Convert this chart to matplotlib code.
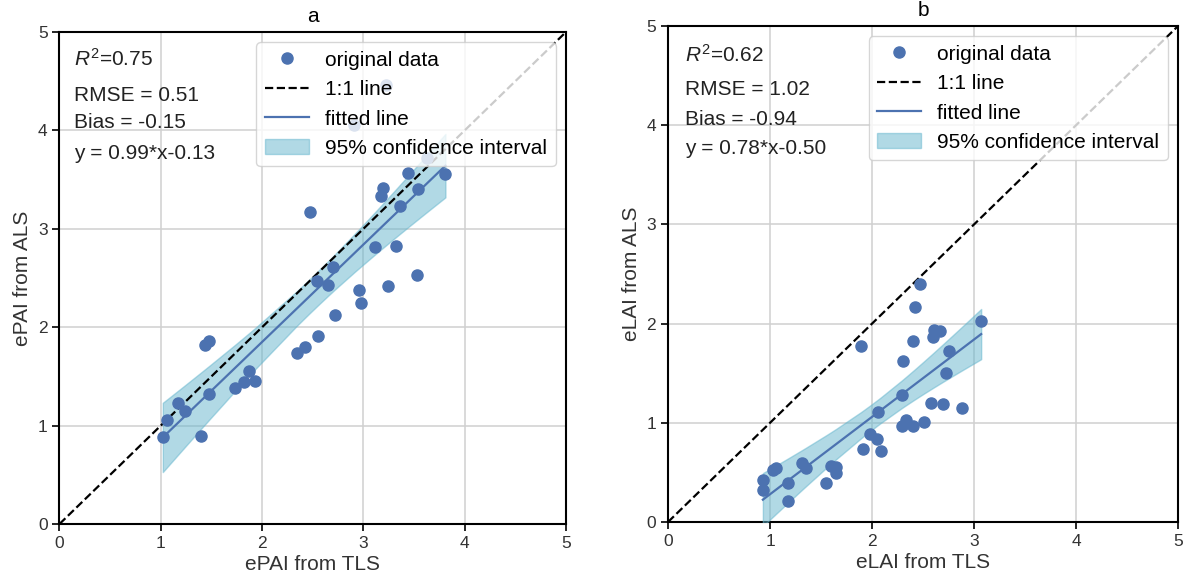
import numpy as np
import matplotlib
matplotlib.use("Agg")
from matplotlib import pyplot as plt

plt.rcParams['font.family'] = ['Liberation Sans', 'DejaVu Sans']
plt.rcParams['mathtext.fontset'] = 'custom'
plt.rcParams['mathtext.rm'] = 'Liberation Sans'
plt.rcParams['mathtext.it'] = 'Liberation Sans:italic'

# panel a: ePAI
tls_pai = [1.02, 1.06, 1.17, 1.24, 1.40, 1.48, 1.44, 1.48, 1.73, 1.82, 1.87, 1.93,
           2.34, 2.42, 2.55, 2.72, 2.96, 2.98, 3.24, 2.54, 2.65, 2.47, 2.70, 3.11,
           3.32, 3.53, 3.36, 3.54, 3.81, 3.19, 3.17, 3.44, 2.91, 3.22, 3.63]
als_pai = [0.88, 1.06, 1.23, 1.15, 0.89, 1.32, 1.82, 1.86, 1.38, 1.44, 1.56, 1.45,
           1.74, 1.80, 1.91, 2.12, 2.38, 2.25, 2.42, 2.47, 2.43, 3.17, 2.61, 2.82,
           2.83, 2.53, 3.23, 3.40, 3.56, 3.41, 3.33, 3.57, 4.05, 4.46, 3.72]
stats_pai = ["$R^2$=0.75", "RMSE = 0.51", "Bias = -0.15", "y = 0.99*x-0.13"]
fit_pai = (0.99, -0.13)

# panel b: eLAI
tls_lai = [0.93, 0.93, 1.03, 1.06, 1.18, 1.18, 1.31, 1.35, 1.55, 1.60, 1.65, 1.65,
           1.91, 1.98, 2.05, 2.09, 2.06, 2.29, 2.33, 2.29, 2.40, 2.51, 2.58, 2.70,
           2.88, 2.73, 2.30, 2.75, 1.89, 2.40, 2.60, 2.61, 2.67, 3.07, 2.42, 2.47]
als_lai = [0.42, 0.32, 0.52, 0.54, 0.39, 0.21, 0.60, 0.54, 0.39, 0.56, 0.55, 0.49,
           0.74, 0.89, 0.84, 0.72, 1.11, 1.28, 1.03, 0.97, 0.97, 1.01, 1.20, 1.19,
           1.15, 1.50, 1.62, 1.72, 1.77, 1.82, 1.87, 1.94, 1.93, 2.03, 2.17, 2.40]
stats_lai = ["$R^2$=0.62", "RMSE = 1.02", "Bias = -0.94", "y = 0.78*x-0.50"]
fit_lai = (0.78, -0.50)

BLUE = '#4C72B0'
BAND = '#64B5CD'
TXT = 15


def panel(ax, x, y, fit, stats, title, xlabel, ylabel, stat_xy):
    x = np.array(x)
    y = np.array(y)
    k, b = fit
    xs = np.sort(x)
    yfit = k * xs + b
    # 95% confidence band of the regression mean
    n = len(x)
    s = np.sqrt(np.sum((y - (k * x + b)) ** 2) / (n - 2))
    half = 2.03 * s * np.sqrt(1.0 / n + (xs - x.mean()) ** 2 / np.sum((x - x.mean()) ** 2))

    ax.plot(x, y, 'o', color=BLUE, ms=8, label='original data', zorder=5)
    ax.plot([0, 5], [0, 5], '--', color='k', lw=1.6, label='1:1 line', zorder=4)
    ax.plot(xs, yfit, '-', color=BLUE, lw=1.6, label='fitted line', zorder=4)
    ax.fill_between(xs, yfit - half, yfit + half, color=BAND, alpha=0.5,
                    label='95% confidence interval', zorder=3)

    ax.set_xlim(0, 5)
    ax.set_ylim(0, 5)
    ax.set_xticks(range(6))
    ax.set_yticks(range(6))
    ax.grid(True, color='#d0d0d0', lw=1.1, zorder=0)
    ax.set_axisbelow(True)
    for sp in ax.spines.values():
        sp.set_color('k')
        sp.set_linewidth(1.5)
    ax.tick_params(labelsize=12.5, length=5, width=1.2, colors='k', labelcolor='#333333')
    ax.set_title(title, fontsize=TXT, pad=7)
    ax.set_xlabel(xlabel, fontsize=TXT, color='#333333', labelpad=3)
    ax.set_ylabel(ylabel, fontsize=TXT, color='#333333')

    sx, sy = stat_xy
    for i, t in enumerate(stats):
        ax.text(sx, sy[i], t, fontsize=TXT, color='#222222', zorder=6)

    leg = ax.legend(loc='upper right', fontsize=TXT, framealpha=0.8, borderaxespad=0.5,
                    handlelength=2.1, handletextpad=0.8, labelspacing=0.5)
    leg.set_zorder(10)


fig = plt.figure(figsize=(11.92, 5.81), dpi=100)
ax1 = fig.add_axes([0.0499, 0.0981, 0.4249, 0.8468])
ax2 = fig.add_axes([0.5604, 0.1015, 0.4279, 0.8537])

panel(ax1, tls_pai, als_pai, fit_pai, stats_pai, 'a', 'ePAI from TLS', 'ePAI from ALS',
      (0.14, [4.66, 4.30, 4.02, 3.71]))
panel(ax2, tls_lai, als_lai, fit_lai, stats_lai, 'b', 'eLAI from TLS', 'eLAI from ALS',
      (0.17, [4.64, 4.30, 4.00, 3.71]))

fig.savefig('out.png', dpi=100)
